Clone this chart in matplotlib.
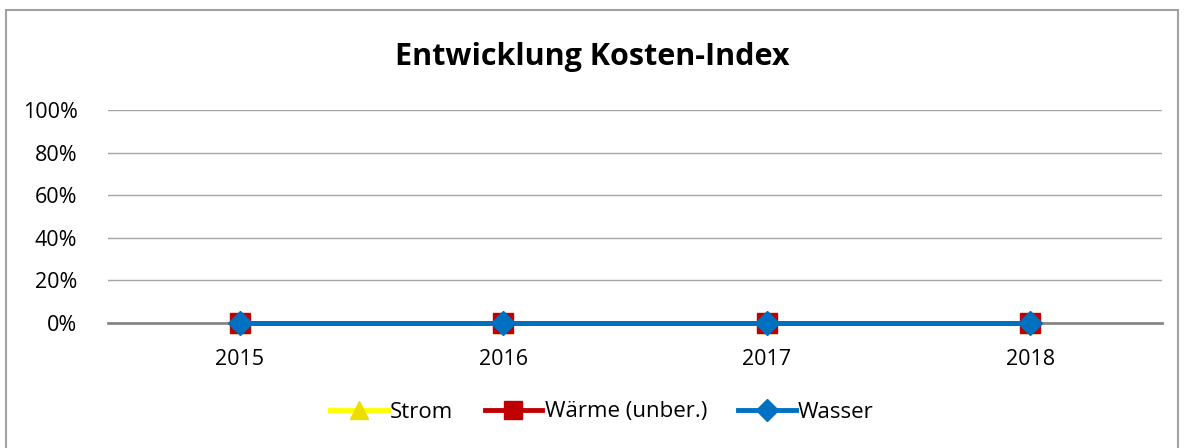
import matplotlib.pyplot as plt
import matplotlib.patches as patches
import numpy as np

years = ['2015', '2016', '2017', '2018']
strom = [0, 0, 0, 0]
waerme = [0, 0, 0, 0]
wasser = [0, 0, 0, 0]

plt.rcParams['font.family'] = ['Open Sans', 'DejaVu Sans']

fig = plt.figure(figsize=(11.84, 4.48), dpi=100)
ax = fig.add_axes([108/1184, 1 - 323/448, (1162-108)/1184, (323-110)/448])

x = np.arange(len(years))
ax.plot(x, strom, color='#FFFF00', lw=3.5, marker='^', ms=14, mfc='#EEDD00', mec='#EEDD00',
        label='Strom', zorder=3, clip_on=False)
ax.plot(x, waerme, color='#C00000', lw=3.5, marker='s', ms=15, mfc='#C00000', mec='#C00000',
        label='Wärme (unber.)', zorder=4, clip_on=False)
ax.plot(x, wasser, color='#0070C0', lw=3.5, marker='D', ms=12, mfc='#0070C0', mec='#0070C0',
        label='Wasser', zorder=5, clip_on=False)

ax.set_xlim(-0.5, 3.5)
ax.set_ylim(0, 1)
ticks = np.arange(0, 1.01, 0.2)
ax.set_yticks(ticks)
ax.set_yticklabels([f'{int(round(v*100))}%' for v in ticks], fontsize=15.5)
ax.set_xticks(x)
ax.set_xticklabels(years, fontsize=15.5)
ax.grid(axis='y', color='#A6A6A6', lw=1)
ax.set_axisbelow(True)
for s in ['top', 'right', 'left']:
    ax.spines[s].set_visible(False)
ax.spines['bottom'].set_color('#868686')
ax.spines['bottom'].set_linewidth(2)
ax.spines['bottom'].set_zorder(2)
ax.tick_params(axis='y', length=0, pad=22)
ax.tick_params(axis='x', length=0, pad=19)

fig.text(0.5, 1 - 57/448, 'Entwicklung Kosten-Index', ha='center', va='center',
         fontsize=22, fontweight='bold')

fig.legend(*ax.get_legend_handles_labels(), loc='center', bbox_to_anchor=(602/1184, 1 - 412/448),
           ncol=3, frameon=False, fontsize=16, handlelength=2.6, handletextpad=0.1,
           columnspacing=1.4, markerscale=0.9)

fig.patches.append(patches.Rectangle((6/1184, -0.05), (1178-6)/1184, 1 - 10/448 + 0.05,
                                     transform=fig.transFigure, fill=False,
                                     edgecolor='#A0A0A0', lw=1.5))

fig.savefig('out.png', dpi=100)
